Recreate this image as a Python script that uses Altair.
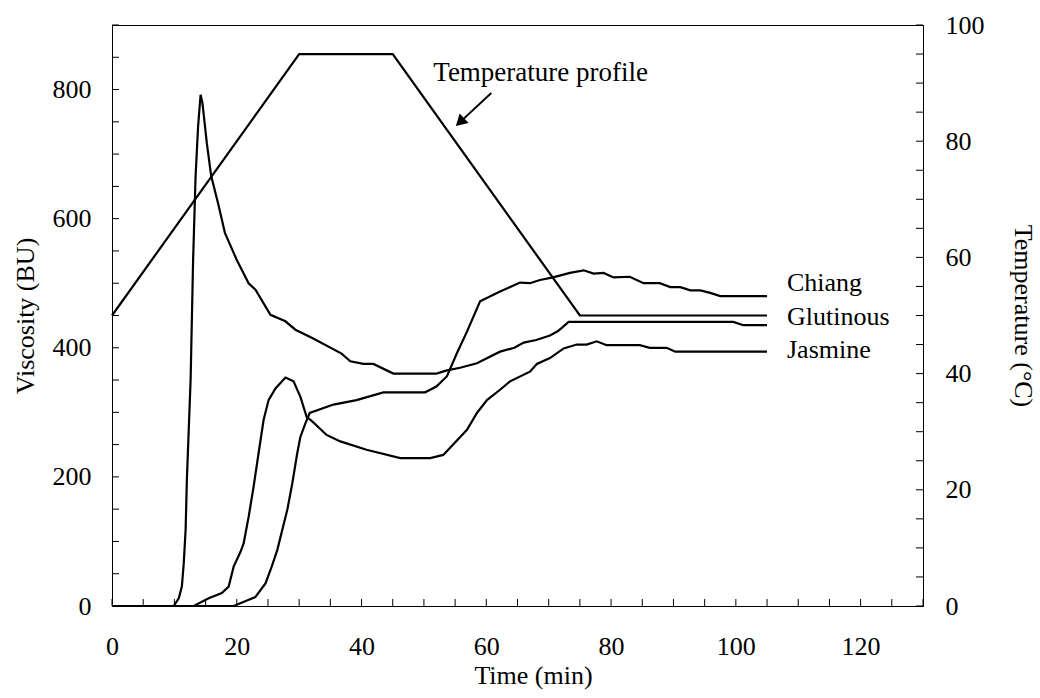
import altair as alt
import pandas as pd

FONT = "Liberation Serif"

# ---- data ----
glutinous_t = [0, 9.9, 10.7, 11.2, 11.5, 11.8, 12.0, 12.3, 12.6, 13.0, 13.4, 13.8, 14.2, 14.5,
               15.2, 15.9, 17.0, 18.1, 20.0, 21.9, 23.0, 25.4, 27.8, 29.4, 32.1, 36.8, 38.2,
               40.3, 41.9, 45.1, 52.0, 53.7, 55.8, 58.5, 62.2, 64.5, 66.0, 68.0, 70.2, 71.5,
               73.2, 99.6, 101.2, 105]
glutinous_v = [0, 0, 12, 30, 66, 118, 195, 273, 350, 536, 666, 743, 792, 779,
               717, 666, 624, 578, 536, 500, 490, 451, 441, 428, 415, 391, 379,
               375, 375, 360, 360, 365, 369, 376, 394, 400, 408, 412, 419, 426,
               440, 440, 435, 435]

chiang_t = [0, 19.5, 23.0, 24.6, 25.6, 26.5, 27.3, 28.1, 28.9, 29.7, 30.2, 31.0, 31.7, 35.5,
            39.2, 43.5, 50.2, 52.0, 53.7, 55.3, 56.9, 59.0, 62.2, 65.4, 67.0, 68.6, 70.7,
            73.4, 75.6, 77.2, 78.8, 80.4, 83.0, 85.2, 87.8, 89.5, 91.1, 92.7, 94.3, 95.9,
            97.5, 105]
chiang_v = [0, 0, 14, 35, 61, 87, 118, 149, 190, 237, 262, 283, 299, 312,
            319, 331, 331, 340, 356, 392, 425, 472, 487, 501, 500, 505, 509,
            516, 520, 515, 516, 509, 510, 500, 500, 494, 494, 489, 489, 485,
            480, 480]

jasmine_t = [0, 13.1, 15.5, 17.6, 18.7, 19.5, 20.6, 21.1, 21.9, 22.7, 23.5, 24.3, 25.1, 26.2,
             27.8, 29.1, 30.2, 31.2, 32.1, 34.4, 36.6, 40.8, 46.2, 51.0, 53.1, 56.9, 58.5,
             60.1, 62.2, 63.8, 67.0, 68.1, 70.2, 72.4, 74.5, 76.1, 77.7, 79.3, 84.6, 86.2,
             88.9, 90.3, 105]
jasmine_v = [0, 0, 12, 20, 30, 61, 84, 97, 138, 185, 237, 288, 319, 337,
             354, 348, 324, 293, 286, 265, 255, 242, 229, 229, 234, 273, 299,
             319, 335, 348, 363, 375, 384, 399, 405, 405, 410, 404, 404, 400,
             400, 394, 394]

temp_t = [0, 30, 45, 75, 105]
temp_c = [50, 95, 95, 50, 50]

series_labels = ["Chiang", "Glutinous", "Jasmine"]
label_t = [108.2, 108.2, 108.2]
label_v = [501, 448, 397]

annot_text = ["Temperature profile"]
annot_t = [51.5]
annot_T = [91.7]

arrow_tail_t, arrow_tail_T = [60.8], [88.3]
arrow_head_t, arrow_head_T = [56.0], [83.5]

x_labels = [0, 20, 40, 60, 80, 100, 120]
visc_labels = [0, 200, 400, 600, 800]
temp_labels = [0, 20, 40, 60, 80, 100]
x_minor = list(range(0, 131, 5))
visc_minor = list(range(0, 901, 50))
temp_minor = list(range(0, 101, 5))

# ---- layout ----
W, H = 811, 581
TICK = 7
FS = 26
LW = 2.2

rows = []
for name, ts, vs in [("Glutinous", glutinous_t, glutinous_v),
                     ("Chiang", chiang_t, chiang_v),
                     ("Jasmine", jasmine_t, jasmine_v)]:
    rows += [{"variety": name, "t": t, "v": v} for t, v in zip(ts, vs)]
visc_df = pd.DataFrame(rows)
temp_df = pd.DataFrame({"t": temp_t, "T": temp_c})
lab_df = pd.DataFrame({"label": series_labels, "t": label_t, "v": label_v})
annot_df = pd.DataFrame({"label": annot_text, "t": annot_t, "T": annot_T})
arrow_df = pd.DataFrame({"t": arrow_tail_t, "T": arrow_tail_T,
                         "t2": arrow_head_t, "T2": arrow_head_T})
xm_df = pd.DataFrame({"t": x_minor})
vm_df = pd.DataFrame({"v": visc_minor})
tm_df = pd.DataFrame({"T": temp_minor})

x_scale = alt.Scale(domain=[0, 130], nice=False, zero=False)
yv_scale = alt.Scale(domain=[0, 900], nice=False)
yt_scale = alt.Scale(domain=[0, 100], nice=False)

common = dict(ticks=False, grid=False, labelFont=FONT, labelFontSize=FS,
              labelColor="black", domainColor="black", domainWidth=1,
              titleFont=FONT, titleFontSize=FS, titleFontWeight="normal",
              titleColor="black", labelOverlap=False, labelFlush=False,
              titleAlign="center", titleBaseline="middle")

x_axis = alt.Axis(values=x_labels, labelPadding=27, title="Time (min)",
                  titleX=421, titleY=69, **common)
yv_axis = alt.Axis(values=visc_labels, orient="left", labelPadding=21,
                   title="Viscosity (BU)", titleX=-87, titleY=H / 2,
                   titleAngle=270, **common)
yt_axis = alt.Axis(values=temp_labels, orient="right", labelPadding=22,
                   title="Temperature (°C)", titleX=99, titleY=H / 2,
                   titleAngle=90, **common)


def X(field):
    return alt.X(field, scale=x_scale, axis=x_axis)


def YV(field):
    return alt.Y(field, scale=yv_scale, axis=yv_axis)


def YT(field):
    return alt.Y(field, scale=yt_scale, axis=yt_axis)


lines = alt.Chart(visc_df).mark_line(color="black", strokeWidth=LW).encode(
    x=X("t:Q"), y=YV("v:Q"), detail="variety:N",
)
left_ticks = alt.Chart(vm_df).mark_rule(color="black", strokeWidth=1).encode(
    y=YV("v:Q"), x=alt.value(0), x2=alt.value(TICK),
)
bottom_ticks = alt.Chart(xm_df).mark_rule(color="black", strokeWidth=1).encode(
    x=X("t:Q"), y=alt.value(H), y2=alt.value(H - TICK),
)
labels = alt.Chart(lab_df).mark_text(align="left", baseline="middle", font=FONT,
                                     fontSize=FS, color="black").encode(
    x=X("t:Q"), y=YV("v:Q"), text="label:N",
)
visc_group = alt.layer(lines, left_ticks, bottom_ticks, labels)

temp_line = alt.Chart(temp_df).mark_line(color="black", strokeWidth=LW).encode(
    x=X("t:Q"), y=YT("T:Q"),
)
right_ticks = alt.Chart(tm_df).mark_rule(color="black", strokeWidth=1).encode(
    y=YT("T:Q"), x=alt.value(W - TICK), x2=alt.value(W),
)
annot = alt.Chart(annot_df).mark_text(align="left", baseline="middle", font=FONT,
                                      fontSize=27, color="black").encode(
    x=X("t:Q"), y=YT("T:Q"), text="label:N",
)
shaft = alt.Chart(arrow_df).mark_rule(color="black", strokeWidth=2).encode(
    x=X("t:Q"), x2="t2:Q", y=YT("T:Q"), y2="T2:Q",
)
head = alt.Chart(arrow_df).mark_point(shape="triangle", filled=True, size=170,
                                      angle=227, color="black", opacity=1).encode(
    x=X("t2:Q"), y=YT("T2:Q"),
)
temp_group = alt.layer(temp_line, right_ticks, annot, shaft, head)

chart = alt.layer(visc_group, temp_group).resolve_scale(y="independent").properties(
    width=W, height=H,
    autosize=alt.AutoSizeParams(type="none"),
    padding={"left": 112, "top": 25, "right": 1040 - 112 - W, "bottom": 698 - 25 - H},
    background="white",
).configure_view(stroke="black", strokeWidth=1)

chart.save("out.html", embed_options={"renderer": "svg", "actions": False})
